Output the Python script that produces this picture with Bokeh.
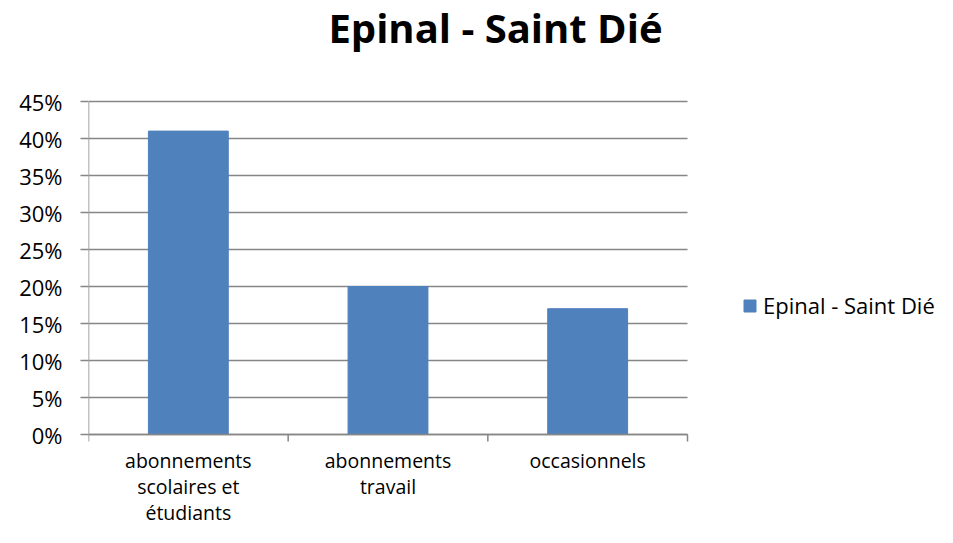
import math
from bokeh.plotting import figure
from bokeh.models import Range1d, FixedTicker, NumeralTickFormatter, LinearAxis, Legend, LegendItem, ColumnDataSource, Label
from bokeh.core.properties import value
from bokeh.embed import file_html
from bokeh.resources import INLINE

categories = ["abonnements\nscolaires et\nétudiants", "abonnements\ntravail", "occasionnels"]
values = [0.41, 0.20, 0.17]
series_name = "Epinal - Saint Dié"
y_ticks = [0, 0.05, 0.10, 0.15, 0.20, 0.25, 0.30, 0.35, 0.40, 0.45]

FONT = "Open Sans"
GRAY = "#868686"
BLUE = "#4F81BD"

W, H = 937, 527
LEFT = 88
# plot-area geometry in pixels (frame spans whole figure right of the y labels)
PA_TOP, PA_BOTTOM, PA_RIGHT = 101, 434, 687

n = len(categories)
ymax = y_ticks[-1]
px_per_y = (PA_BOTTOM - PA_TOP) / ymax
px_per_x = (PA_RIGHT - LEFT) / n
x_range = Range1d(0, (W - LEFT) / px_per_x)
y_range = Range1d(-(H - PA_BOTTOM) / px_per_y, ymax + PA_TOP / px_per_y)

xpos = [i + 0.5 for i in range(n)]
bounds = list(range(n + 1))
src = ColumnDataSource(dict(x=xpos, top=values))

p = figure(width=W, height=H, output_backend="svg", toolbar_location=None,
           x_range=x_range, y_range=y_range, x_axis_type=None, y_axis_type=None,
           min_border_left=LEFT, min_border_right=0, min_border_top=0, min_border_bottom=0)
p.outline_line_color = None
p.background_fill_color = "white"
p.border_fill_color = "white"

# gridlines
p.segment(x0=[0] * len(y_ticks), x1=[n] * len(y_ticks), y0=y_ticks, y1=y_ticks,
          line_color=GRAY, line_width=1.5)

r = p.vbar(x="x", top="top", width=0.4, source=src, fill_color=BLUE, line_color=BLUE)

# axis lines
p.segment(x0=[0, 0], x1=[n, 0], y0=[0, 0], y1=[0, ymax], line_color=GRAY, line_width=1.5)
# category boundary ticks
p.ray(x=bounds, y=[0] * len(bounds), length=7, length_units="screen", angle=-math.pi / 2,
      line_color=GRAY, line_width=1.5)

yaxis = LinearAxis(ticker=FixedTicker(ticks=y_ticks, minor_ticks=[]),
                   formatter=NumeralTickFormatter(format="0%"))
yaxis.axis_line_color = None
yaxis.major_tick_line_color = GRAY
yaxis.major_tick_line_width = 1.5
yaxis.major_tick_in = 0
yaxis.major_tick_out = 8
yaxis.minor_tick_line_color = None
yaxis.major_label_text_font = FONT
yaxis.major_label_text_font_size = "22px"
yaxis.major_label_text_color = "black"
yaxis.major_label_standoff = 18
p.add_layout(yaxis, "left")

# category labels
p.text(x=xpos, y=[0] * n, text=categories, y_offset=12, text_align="center",
       text_baseline="top", text_font=value(FONT), text_font_size="19.5px",
       text_color="black", text_line_height=0.97)

title = Label(x=495 - LEFT, y=H - 27, x_units="screen", y_units="screen", text=series_name,
              text_align="center", text_baseline="alphabetic", text_font=FONT,
              text_font_size="40px", text_font_style="bold", text_color="black")
p.add_layout(title)

legend = Legend(items=[LegendItem(label=series_name, renderers=[r])],
                location=(742 - LEFT, 207), border_line_color=None, background_fill_alpha=0,
                label_text_font=FONT, label_text_font_size="22px", label_text_color="black",
                glyph_width=15, glyph_height=15, padding=0, margin=0, label_standoff=6)
p.add_layout(legend, "center")

open("out.html", "w").write(file_html(p, INLINE))
